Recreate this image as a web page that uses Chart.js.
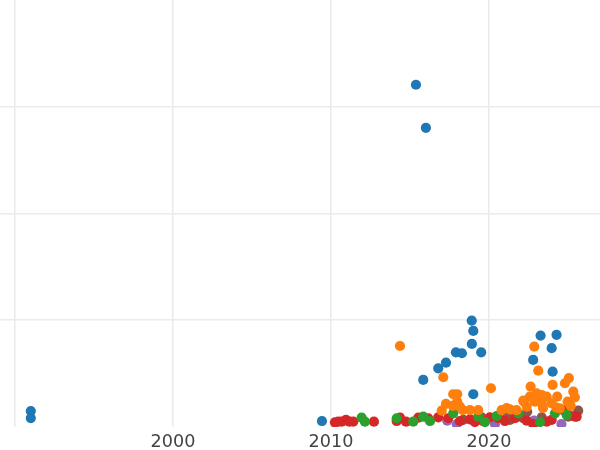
<!DOCTYPE html>
<html>
<head>
<meta charset="utf-8">
<script src="https://cdn.jsdelivr.net/npm/chart.js@4"></script>
<style>
  html, body { margin: 0; padding: 0; background: #fff; }
  #wrap { width: 600px; height: 450px; }
</style>
</head>
<body>
<div id="wrap"><canvas id="scatterChart"></canvas></div>
<script>
// series values: [year, value]
const blueSeries = [
    [1991.0, 15], [1991.0, 8.4], [2009.43, 5.6], [2015.38, 320.6], [2016.01, 280.3],
    [2015.84, 44.1], [2016.79, 55], [2017.28, 60.3], [2017.91, 70], [2018.29, 69.1],
    [2018.91, 99.7], [2019.01, 90], [2018.92, 77.8], [2019.51, 70], [2019.01, 30.7],
    [2022.80, 62.8], [2023.27, 85.6], [2024.28, 86.3], [2023.97, 73.8], [2024.03, 51.8]
];
const orangeSeries = [
    [2014.37, 75.9], [2017.11, 46.6], [2017.28, 21.6], [2017.01, 15.3], [2017.74, 30.7],
    [2017.99, 30.7], [2017.99, 23.7], [2017.72, 19.7], [2018.16, 19], [2018.35, 15.9],
    [2018.80, 15.9], [2019.32, 15.9], [2020.13, 36.3], [2020.80, 15.9], [2021.12, 17.8],
    [2021.33, 16.6], [2021.75, 15.9], [2022.22, 23.7], [2022.64, 37.8], [2022.87, 75.3],
    [2023.12, 52.8], [2022.59, 28.4], [2023.02, 31.6], [2023.34, 30], [2023.65, 28.4],
    [2024.03, 39.4], [2024.81, 41], [2025.06, 45.7], [2025.34, 33.1], [2025.44, 27.8],
    [2024.32, 28.4], [2024.98, 23.7], [2025.17, 19.7], [2024.28, 18.1], [2023.97, 22.2],
    [2023.42, 17.8], [2022.91, 23.7], [2023.34, 22.2], [2022.39, 19], [2022.17, 24.7],
    [2024.49, 17.5]
];
const greenSeries = [
    [2011.94, 8.7], [2012.15, 5], [2014.16, 8.2], [2015.21, 5], [2015.84, 9.7],
    [2017.74, 12.8], [2019.32, 9.7], [2020.49, 10.3], [2021.85, 12.8], [2024.18, 12.8],
    [2024.92, 11.3], [2019.75, 4.7], [2023.23, 4.7], [2016.27, 5.6]
];
const redSeries = [
    [2010.25, 4.4], [2010.46, 5], [2010.68, 5], [2010.95, 6.6], [2011.16, 5],
    [2011.41, 5], [2012.72, 5], [2014.16, 5.6], [2014.37, 8.7], [2014.75, 5],
    [2015.53, 8.7], [2016.16, 8.2], [2016.79, 9.1], [2017.42, 8.2], [2018.80, 7.2],
    [2019.11, 4.7], [2020.06, 9.1], [2020.59, 8.2], [2021.65, 8.2], [2022.39, 5.9],
    [2022.80, 2.8], [2023.65, 5], [2023.97, 6.6], [2024.70, 15.9], [2025.44, 9.7],
    [2025.55, 9.7], [2024.81, 15.9], [2021.01, 5.6], [2018.16, 5.6], [2019.62, 5.6]
];
const purpleSeries = [
    [2017.36, 5.9], [2017.96, 2.8], [2020.38, 2.8], [2022.85, 5.9], [2024.59, 2.8]
];
const brownSeries = [
    [2018.37, 6.6], [2019.54, 9.1], [2021.16, 9.7], [2021.33, 6.6], [2022.17, 8.2],
    [2022.42, 14.3], [2023.34, 9.1], [2025.08, 11.3], [2025.65, 15.3], [2025.02, 9.7]
];

// tick labels
const xTicks = [1990, 2000, 2010, 2020];
const xHiddenLabels = [1990];
const yTicks = [100, 200, 300];

const seriesList = [
    { data: blueSeries, color: '#1f77b4' },
    { data: orangeSeries, color: '#ff7f0e' },
    { data: greenSeries, color: '#2ca02c' },
    { data: redSeries, color: '#d62728' },
    { data: purpleSeries, color: '#9467bd' },
    { data: brownSeries, color: '#8c564b' }
];

const ctx = document.getElementById('scatterChart').getContext('2d');
new Chart(ctx, {
    type: 'scatter',
    data: {
        datasets: seriesList.map(s => ({
            data: s.data.map(p => ({ x: p[0], y: p[1] })),
            backgroundColor: s.color,
            borderWidth: 0,
            pointRadius: 5.1,
            pointHoverRadius: 5.1
        }))
    },
    options: {
        responsive: true,
        maintainAspectRatio: false,
        animation: false,
        layout: { padding: 0, autoPadding: false },
        plugins: {
            legend: { display: false },
            tooltip: { enabled: false }
        },
        scales: {
            x: {
                type: 'linear',
                min: 1989.05,
                max: 2027.03,
                afterBuildTicks: (axis) => { axis.ticks = xTicks.map(v => ({ value: v })); },
                afterFit: (axis) => { axis.height = 23; },
                border: { display: false },
                grid: { color: '#ebebeb', lineWidth: 1.6, drawTicks: false },
                ticks: {
                    padding: 5,
                    color: '#444',
                    font: { family: 'DejaVu Sans', size: 17.6 },
                    maxRotation: 0,
                    callback: (value) => xHiddenLabels.includes(value) ? '' : String(value)
                }
            },
            y: {
                min: 0,
                max: 400,
                afterBuildTicks: (axis) => { axis.ticks = yTicks.map(v => ({ value: v })); },
                border: { display: false },
                grid: { color: '#ebebeb', lineWidth: 1.6, drawTicks: false },
                ticks: { display: false }
            }
        }
    }
});
</script>
</body>
</html>
